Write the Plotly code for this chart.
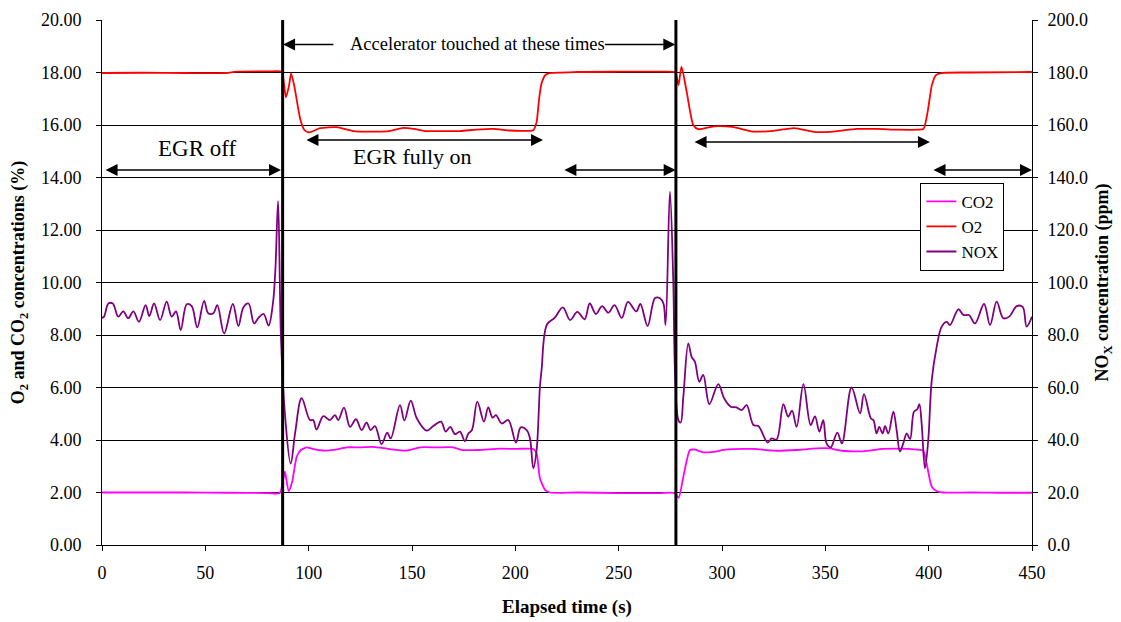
import plotly.graph_objects as go

# ---------------- data ----------------
co2_t = [0, 20, 40, 60, 80, 86, 87.5, 88.5, 90.3, 92, 94.2, 96, 99, 102.3, 107, 112,
         118.4, 125, 131.3, 139.4, 147.4, 153.9, 162, 170, 174, 182, 192.6, 200, 208.7,
         210.3, 211.9, 214.4, 216.8, 230, 250, 270, 277, 279, 281.3, 284.5, 286.9, 290.9,
         296, 302.3, 315, 326.5, 336, 345.8, 352, 358, 368, 378, 390, 396, 397.4, 399,
         401.5, 404, 407, 420, 435, 450]
co2_v = [2.0, 2.0, 2.0, 1.99, 1.98, 1.98, 2.4, 2.8, 2.05, 2.4, 3.36, 3.6, 3.72, 3.65, 3.6, 3.62,
         3.72, 3.72, 3.74, 3.65, 3.6, 3.72, 3.72, 3.72, 3.62, 3.62, 3.67, 3.66, 3.66,
         3.49, 2.54, 2.1, 2.0, 2.0, 1.98, 1.98, 1.98, 1.8, 2.6, 3.62, 3.63, 3.53,
         3.55, 3.64, 3.66, 3.59, 3.62, 3.68, 3.68, 3.59, 3.57, 3.66, 3.66, 3.62, 3.6, 3.11,
         2.22, 2.05, 2.0, 2.0, 1.99, 1.99]

o2_t = [0, 20, 40, 60, 65, 80, 87, 88, 89, 90.5, 91.5, 93, 96, 98, 100.3, 105.5, 113.5,
        121.6, 132.9, 139, 145.8, 151, 157.1, 165, 173.2, 181, 189.3, 197.4, 205, 208.7,
        210.3, 211.5, 212.7, 214.5, 216, 230, 250, 270, 277.3, 278.9, 280.4, 282.9, 286.1,
        288.5, 296, 305, 315, 325, 335, 345, 355, 365, 375, 385, 395, 397.5, 399.5, 401.5,
        403.5, 406, 420, 450]
o2_v = [17.98, 17.99, 17.98, 17.98, 18.03, 18.04, 18.03, 17.6, 17.05, 17.5, 17.97, 17.5, 16.2,
        15.8, 15.72, 15.88, 15.92, 15.77, 15.75, 15.77, 15.89, 15.85, 15.77, 15.77, 15.77,
        15.82, 15.85, 15.79, 15.78, 15.8, 16.12, 17.0, 17.59, 17.9, 17.97, 18.02, 18.03, 18.03,
        18.0, 17.52, 18.22, 17.27, 16.0, 15.84, 15.95, 15.93, 15.75, 15.78, 15.88, 15.73,
        15.76, 15.85, 15.85, 15.82, 15.82, 15.85, 16.5, 17.5, 17.9, 17.98, 18.0, 18.02]

nox_t = [0, 1, 3.1, 5.2, 7.9, 10.3, 12.7, 15.2, 17.9, 21.1, 22.9, 25.2, 28.1, 31.3, 33.7,
         35.8, 38.1, 41, 43.4, 46.1, 49.4, 51.4, 53.9, 55.8, 59.1, 63.3, 66, 68.4, 70.9,
         73.6, 75.8, 78.2, 80.6, 82.7, 83.9, 85.2, 86.6, 88.5, 91.3, 93.5, 96.6, 100.6,
         102.2, 103.8, 107.1, 110.3, 112.7, 114.3, 117.1, 120, 122.9, 125.6, 128, 130,
         132.1, 135.3, 138, 139.7, 144.2, 146.3, 149.4, 152.3, 157.1, 160.3, 164, 166.3,
         168.5, 170.8, 173.2, 175.6, 177.2, 179, 181.6, 184.8, 186.9, 189, 190.6, 193.4,
         196.6, 200.3, 202.6, 205.5, 207.1, 208.7, 210.3, 211.9, 212.7, 215.3, 219, 223,
         226.5, 230, 233.5, 236, 239, 242, 245, 248, 251.5, 254.5, 258.5, 260.5, 264, 267.6,
         270, 271.7, 272.7, 274.8, 276.4, 277.3, 278.9, 280, 281.3, 283.7, 285.3, 286.9,
         289, 290.9, 293.9, 298.2, 301, 304.2, 307, 309.5, 311.9, 315.2, 317.6, 322.1, 324,
         326.4, 329.7, 332, 333.9, 336.1, 339.4, 342.9, 345, 347.1, 349, 350.6, 352.6, 355.8,
         358, 362.7, 366.8, 368.7, 372, 373.3, 374.8, 376.1, 377.7, 378.9, 380.5, 382.9,
         384.5, 386.1, 387.7, 389.4, 391, 392.9, 394.5, 395.5, 396.6, 398.2, 399.8, 401.5,
         403.9, 406.3, 408.7, 410.3, 414.4, 416.8, 419.5, 422.4, 426.8, 429.7, 432.9, 436.1,
         439, 442.6, 445.5, 447.4, 450]
nox_v = [86.5, 87, 92, 92, 87, 89, 86.4, 89, 85, 91.4, 87.2, 92, 85.7, 92.7, 87,
         89, 81.9, 91.7, 91, 82.9, 93, 88.3, 88.3, 91.4, 80.6, 91.8, 83.4, 90.5, 92,
         84.4, 86.6, 88, 83.6, 92, 105, 131, 79, 50, 31, 43, 55.9, 47.6,
         47.6, 44, 49.1, 47.6, 49.5, 47.6, 52.3, 45, 47.9, 43.8, 46.6, 43.8,
         45.3, 38.4, 42.8, 40.6, 53.3, 47.4, 55, 48.3, 43.6, 45.3, 47, 43.2,
         45, 42.2, 43.2, 39.6, 42.4, 43.8, 54.6, 47, 52.4, 48.5, 49.5, 46.3,
         47.6, 39, 44.8, 43.8, 40.6, 29.2, 36.2, 60.3, 66.7, 84, 86.5, 90.5,
         85.7, 88.8, 86, 92, 88, 91, 88.5, 91.4, 86.5, 92.6, 89, 91.8, 83.4, 94.1,
         94, 91.9, 83.8, 134.6, 101, 65.4, 47.6, 46.6, 56.5, 76.8, 71.7, 69.8,
         62.2, 64.8, 53.7, 61.3, 55.9, 52.7, 52.4, 51.4, 53.3, 45.7, 45.3, 39, 40.6,
         40.2, 53.7, 48.9, 51.2, 45, 61.3, 45.7, 49, 43.2, 47.6, 38.7, 37.2, 42.8,
         38.7, 60, 50.2, 57.5, 48.3, 47.5, 42.5, 45, 42.5, 45.3, 42.5, 50.8,
         43.8, 35.6, 38.7, 42.5, 40.3, 50.8, 51.7, 53.7, 46.3, 29.2, 40, 62.9,
         75.6, 83.2, 85, 83.8, 89.8, 87.6, 87.6, 84.4, 91.8, 83.8, 92.7, 86.4,
         87, 91, 90.7, 83.2, 87]

accel_times = [87.4, 277.7]

# double arrows: (start, end, level)
arrow_x0 = [1, 98.2, 223, 286, 401.6]
arrow_x1 = [86.6, 213.4, 277.6, 400.6, 450]
arrow_y = [14.29, 15.43, 14.29, 15.35, 14.29]

# single arrows of the "Accelerator" label: (tail, head, level)
acc_tail = [112.7, 242.6]
acc_head = [87.6, 277.4]
acc_y = [19.07, 19.07]

label_text = ["Accelerator touched at these times", "EGR off", "EGR fully on"]
label_x = [181.5, 46, 150]
label_y = [19.07, 15.12, 14.79]

FONT = "Liberation Serif"

fig = go.Figure()
fig.add_trace(go.Scatter(x=co2_t, y=co2_v, name="CO2", mode="lines",
                         line=dict(color="#FF00FF", width=1.8, shape="spline", smoothing=0.6)))
fig.add_trace(go.Scatter(x=o2_t, y=o2_v, name="O2", mode="lines",
                         line=dict(color="#FF0000", width=1.8, shape="spline", smoothing=0.6)))
fig.add_trace(go.Scatter(x=nox_t, y=nox_v, name="NOX", mode="lines", yaxis="y2",
                         line=dict(color="#800080", width=1.8, shape="spline", smoothing=1.0)))

shapes = []
for t in accel_times:
    shapes.append(dict(type="line", xref="x", yref="paper", x0=t, x1=t, y0=0, y1=1,
                       line=dict(color="black", width=3)))

annotations = []
for x0, x1, y in zip(arrow_x0, arrow_x1, arrow_y):
    annotations.append(dict(x=x1, y=y, ax=x0, ay=y, xref="x", yref="y", axref="x", ayref="y",
                            showarrow=True, arrowhead=2, arrowside="end+start", arrowsize=1.6,
                            arrowwidth=1.5, arrowcolor="black", text=""))
for x0, x1, y in zip(acc_tail, acc_head, acc_y):
    annotations.append(dict(x=x1, y=y, ax=x0, ay=y, xref="x", yref="y", axref="x", ayref="y",
                            showarrow=True, arrowhead=2, arrowsize=1.6,
                            arrowwidth=1.5, arrowcolor="black", text=""))
sizes = [18.5, 23, 22]
for txt, x, y, s in zip(label_text, label_x, label_y, sizes):
    annotations.append(dict(x=x, y=y, xref="x", yref="y", text=txt, showarrow=False,
                            font=dict(family=FONT, size=s, color="black")))

tickfont = dict(family=FONT, size=18, color="black")
xtitlefont = dict(family=FONT, size=19, color="black")
ytitlefont = dict(family=FONT, size=18, color="black")

# page body has an 8px margin, so the figure is 8px smaller and margins shifted
fig.update_layout(
    width=1113, height=614,
    margin=dict(l=94, r=89, t=12, b=77, autoexpand=False),
    paper_bgcolor="white", plot_bgcolor="white",
    font=dict(family=FONT, size=17, color="black"),
    showlegend=True,
    legend=dict(x=0.88, y=0.69, xanchor="left", yanchor="top", bgcolor="white",
                bordercolor="black", borderwidth=1, font=dict(family=FONT, size=17)),
    xaxis=dict(range=[0, 450], dtick=50, tick0=0, showgrid=False, zeroline=False,
               showline=True, linecolor="black", linewidth=1, ticks="outside", ticklen=5,
               tickcolor="black", tickfont=tickfont, automargin=False, ticklabelstandoff=6,
               title=dict(text="<b>Elapsed time (s)</b>", font=xtitlefont, standoff=18)),
    yaxis=dict(range=[0, 20], dtick=2, tick0=0, tickformat=".2f", showgrid=True,
               gridcolor="black", gridwidth=1, zeroline=False, showline=True, linecolor="black",
               linewidth=1, ticks="outside", ticklen=5, tickcolor="black", tickfont=tickfont,
               automargin=False, ticklabelstandoff=11,
               title=dict(text="<b>O<sub>2</sub> and CO<sub>2</sub> concentrations (%)</b>",
                          font=ytitlefont, standoff=14)),
    yaxis2=dict(range=[0, 200], dtick=20, tick0=0, tickformat=".1f", overlaying="y",
                side="right", showgrid=False, zeroline=False, showline=True, linecolor="black",
                linewidth=1, ticks="outside", ticklen=5, tickcolor="black", tickfont=tickfont,
                automargin=False, ticklabelstandoff=6,
                title=dict(text="<b>NO<sub>X</sub> concentration (ppm)</b>",
                           font=ytitlefont, standoff=8)),
    shapes=shapes,
    annotations=annotations,
)

fig.write_html("out.html")
